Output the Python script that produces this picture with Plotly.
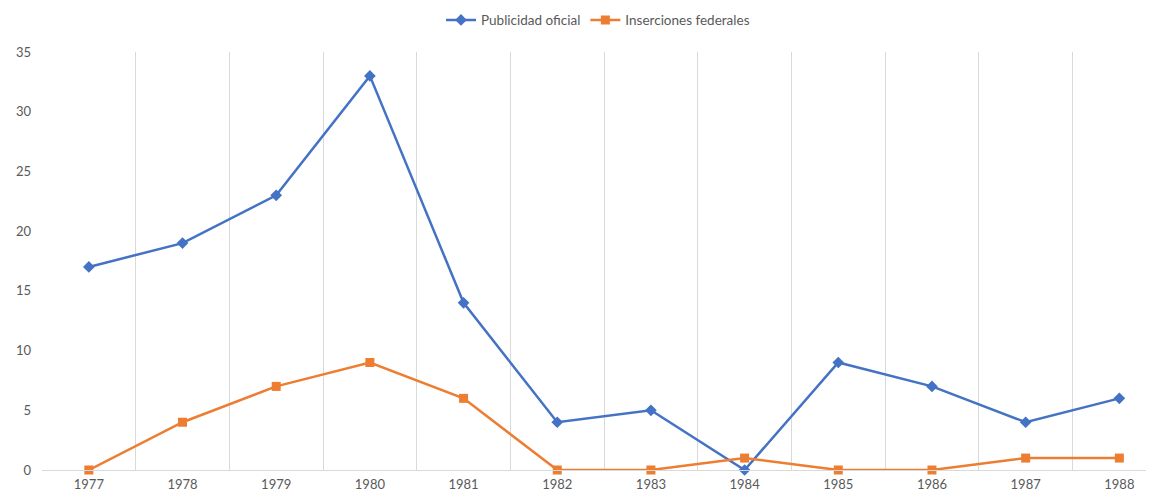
import plotly.graph_objects as go

years = ["1977", "1978", "1979", "1980", "1981", "1982", "1983", "1984", "1985", "1986", "1987", "1988"]
publicidad = [17, 19, 23, 33, 14, 4, 5, 0, 9, 7, 4, 6]
inserciones = [0, 4, 7, 9, 6, 0, 0, 1, 0, 0, 1, 1]

pos = list(range(len(years)))
bounds = [p - 0.5 for p in pos] + [pos[-1] + 0.5]

fig = go.Figure()
fig.add_trace(go.Scatter(x=pos, y=publicidad, name="Publicidad oficial", mode="lines+markers",
                         line=dict(color="#4472C4", width=2.5),
                         marker=dict(symbol="diamond", size=9, color="#4472C4"),
                         cliponaxis=False))
fig.add_trace(go.Scatter(x=pos, y=inserciones, name="Inserciones federales", mode="lines+markers",
                         line=dict(color="#ED7D31", width=2.5),
                         marker=dict(symbol="square", size=9, color="#ED7D31"),
                         cliponaxis=False))
# invisible trace to activate label axis
fig.add_trace(go.Scatter(x=pos, y=publicidad, xaxis="x2", mode="none", showlegend=False, hoverinfo="skip"))

# page body has an 8px default margin, so the figure is sized to fill the window after it
fig.update_layout(
    width=1146, height=485,
    margin=dict(l=34, r=0, t=44, b=23, autoexpand=False),
    paper_bgcolor="white", plot_bgcolor="white",
    font=dict(family="Lato, Open Sans, sans-serif", color="#595959"),
    legend=dict(orientation="h", x=0.5, xanchor="center", yref="container", y=0.975, yanchor="middle",
                font=dict(size=13.5, color="#595959"), itemwidth=30, tracegroupgap=0),
    xaxis=dict(range=[-0.5, 11.37], tickvals=bounds, showticklabels=False, automargin=False,
               showgrid=True, gridcolor="#d9d9d9", gridwidth=1, zeroline=False,
               showline=True, linecolor="#d9d9d9", linewidth=1, ticks=""),
    xaxis2=dict(overlaying="x", matches="x", side="bottom", tickvals=pos, ticktext=years,
                showgrid=False, zeroline=False, showline=False, ticks="", automargin=False,
                ticklabelstandoff=5, tickfont=dict(size=13, color="#595959")),
    yaxis=dict(range=[0, 35], dtick=5, showgrid=False, zeroline=False, showline=False, automargin=False,
               ticks="", tickfont=dict(size=13, color="#595959"), ticklabelstandoff=10),
)

fig.write_html("out.html")
